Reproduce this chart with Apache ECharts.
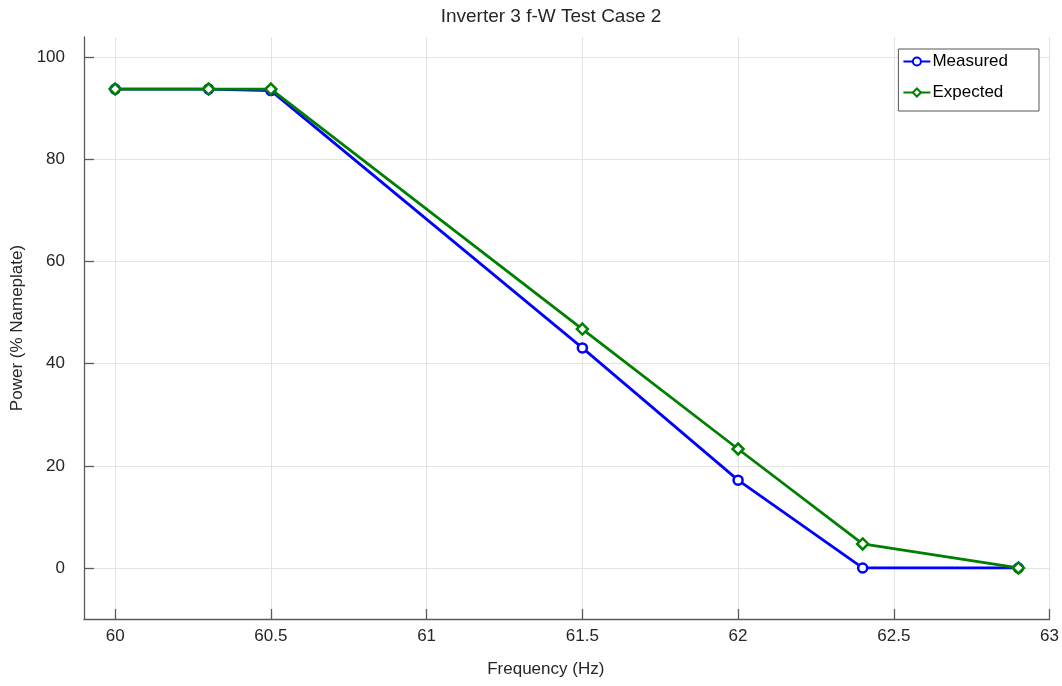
<!DOCTYPE html>
<html>
<head>
<meta charset="utf-8">
<script src="https://cdn.jsdelivr.net/npm/echarts@6/dist/echarts.min.js"></script>
<style>
  html, body { margin: 0; padding: 0; background: #fff; }
  #chart { width: 1062px; height: 686px; }
</style>
</head>
<body>
<div id="chart"></div>
<script>
// Frequency set points (Hz)
const frequency = [60, 60.3, 60.5, 61.5, 62, 62.4, 62.9];
// Output power in % of nameplate
const measured = [93.8, 93.8, 93.5, 43.1, 17.2, 0, 0];
const expected = [93.8, 93.8, 93.8, 46.8, 23.3, 4.7, 0];
// Tick positions
const xTicks = [60, 60.5, 61, 61.5, 62, 62.5, 63];
const yTicks = [0, 20, 40, 60, 80, 100];

const FONT = 'Liberation Sans, Arial, sans-serif';
const TXT = '#262626';
const AX = '#5a5a5a';

const pairs = ys => frequency.map((f, i) => [f, ys[i]]);

const chart = echarts.init(document.getElementById('chart'), null, { renderer: 'canvas' });
chart.setOption({
  animation: false,
  backgroundColor: '#fff',
  title: {
    text: 'Inverter 3 f-W Test Case 2',
    left: 546,
    textAlign: 'center',
    top: 2,
    textStyle: { fontFamily: FONT, fontSize: 19, fontWeight: 'normal', color: TXT }
  },
  grid: { left: 84, right: 11, top: 37, bottom: 67, containLabel: false },
  legend: {
    right: 23,
    top: 49,
    orient: 'vertical',
    itemWidth: 27,
    itemHeight: 10,
    itemGap: 14,
    padding: [4, 31, 10, 4],
    borderColor: '#555',
    borderWidth: 1,
    backgroundColor: '#fff',
    textStyle: { fontFamily: FONT, fontSize: 17, color: '#000', padding: [0, 0, 0, -3] },
    data: ['Measured', 'Expected']
  },
  xAxis: {
    type: 'value',
    min: 59.9,
    max: 63,
    name: 'Frequency (Hz)',
    nameLocation: 'middle',
    nameGap: 42,
    nameTextStyle: { fontFamily: FONT, fontSize: 17, color: TXT, padding: [0, 42, 0, 0] },
    axisLine: { show: true, onZero: false, lineStyle: { color: AX, width: 1.3 } },
    axisTick: { show: true, inside: true, length: 10, customValues: xTicks, lineStyle: { color: AX, width: 1.3 } },
    axisLabel: { customValues: xTicks, fontFamily: FONT, fontSize: 17, color: TXT, margin: 9 },
    splitLine: { show: true, lineStyle: { color: '#e3e3e3', width: 1 } }
  },
  yAxis: {
    type: 'value',
    min: -10,
    max: 104,
    name: 'Power (% Nameplate)',
    nameLocation: 'middle',
    nameGap: 55,
    nameTextStyle: { fontFamily: FONT, fontSize: 17, color: TXT },
    axisLine: { show: true, onZero: false, lineStyle: { color: AX, width: 1.3 } },
    axisTick: { show: true, inside: true, length: 10, customValues: yTicks, lineStyle: { color: AX, width: 1.3 } },
    axisLabel: { customValues: yTicks, fontFamily: FONT, fontSize: 17, color: TXT, margin: 19 },
    splitLine: { show: true, lineStyle: { color: '#e3e3e3', width: 1 } }
  },
  series: [
    {
      name: 'Measured',
      type: 'line',
      data: pairs(measured),
      symbol: 'circle',
      symbolSize: 9,
      color: '#0000ff',
      lineStyle: { color: '#0000ff', width: 2.8 },
      itemStyle: { color: '#fff', borderColor: '#0000ff', borderWidth: 2.5 },
      z: 2
    },
    {
      name: 'Expected',
      type: 'line',
      data: pairs(expected),
      symbol: 'diamond',
      symbolSize: 11,
      color: '#008000',
      lineStyle: { color: '#008000', width: 2.8 },
      itemStyle: { color: '#fff', borderColor: '#008000', borderWidth: 2.5 },
      z: 3
    }
  ]
});
</script>
</body>
</html>
